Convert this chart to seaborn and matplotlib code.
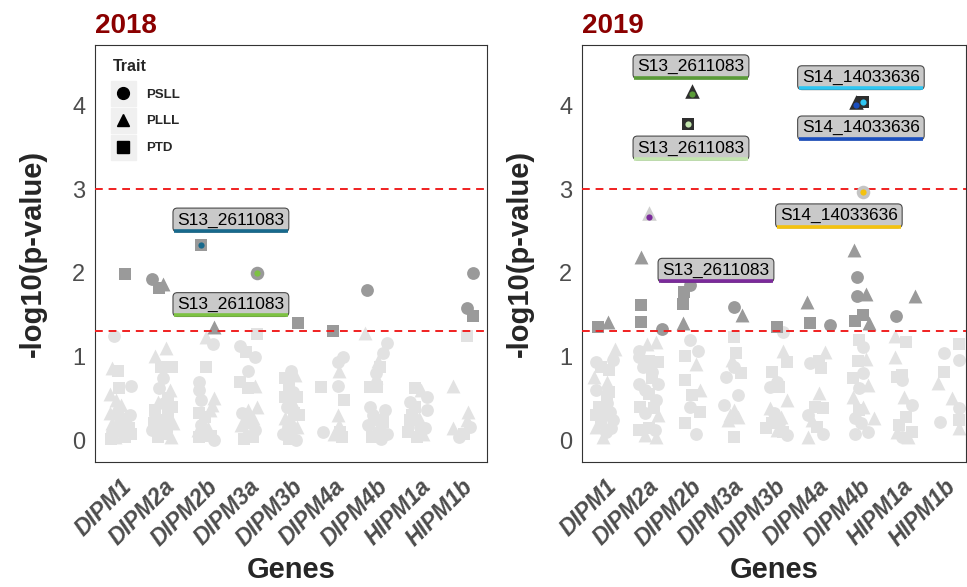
import pandas as pd
import matplotlib.pyplot as plt
import seaborn as sns
from matplotlib.lines import Line2D

#DATOS
genes = ["DIPM1", "DIPM2a", "DIPM2b", "DIPM3a", "DIPM3b", "DIPM4a", "DIPM4b", "HIPM1a", "HIPM1b"]
trait_names = {"C": "PSLL", "T": "PLLL", "S": "PTD"}

# (gen, jitter, -log10(p), rasgo)   C=PSLL  T=PLLL  S=PTD
pts_2018 = [
    ("DIPM1", 0.10, 1.98, "S"), ("DIPM1", -0.16, 1.25, "C"), ("DIPM1", -0.20, 0.86, "T"), ("DIPM1", -0.05, 0.83, "S"),
    ("DIPM1", -0.04, 0.62, "S"), ("DIPM1", 0.24, 0.65, "C"), ("DIPM1", -0.10, 0.48, "T"), ("DIPM1", -0.25, 0.32, "T"),
    ("DIPM1", -0.12, 0.36, "T"), ("DIPM1", 0.22, 0.30, "C"), ("DIPM1", 0.25, 0.08, "S"), ("DIPM1", -0.20, 0.10, "C"),
    ("DIPM1", 0.00, 0.20, "S"), ("DIPM1", -0.14, 0.04, "T"), ("DIPM1", 0.10, 0.04, "S"), ("DIPM1", -0.20, 0.20, "T"),
    ("DIPM1", 0.20, 0.15, "S"), ("DIPM1", 0.02, 0.42, "T"), ("DIPM1", -0.05, 0.12, "C"), ("DIPM1", 0.12, 0.25, "S"),
    ("DIPM1", -0.25, 0.55, "T"), ("DIPM1", -0.05, 0.30, "C"), ("DIPM1", 0.10, 0.12, "T"), ("DIPM1", -0.22, 0.02, "S"),
    ("DIPM2a", -0.27, 1.92, "C"), ("DIPM2a", -0.10, 1.82, "S"), ("DIPM2a", 0.00, 1.86, "T"),
    ("DIPM2a", 0.07, 1.10, "T"), ("DIPM2a", -0.20, 1.00, "T"), ("DIPM2a", 0.20, 0.87, "S"), ("DIPM2a", -0.05, 0.87, "S"),
    ("DIPM2a", 0.00, 0.74, "C"), ("DIPM2a", -0.10, 0.62, "C"), ("DIPM2a", 0.15, 0.60, "T"), ("DIPM2a", 0.20, 0.40, "S"),
    ("DIPM2a", -0.20, 0.36, "S"), ("DIPM2a", -0.12, 0.46, "T"), ("DIPM2a", 0.02, 0.44, "C"), ("DIPM2a", -0.05, 0.24, "S"),
    ("DIPM2a", 0.10, 0.16, "S"), ("DIPM2a", -0.25, 0.12, "C"), ("DIPM2a", -0.12, 0.04, "S"), ("DIPM2a", 0.18, 0.04, "T"),
    ("DIPM2a", 0.05, 0.08, "S"), ("DIPM2a", -0.20, 0.28, "C"), ("DIPM2a", 0.12, 0.30, "S"), ("DIPM2a", -0.22, 0.20, "S"),
    ("DIPM2a", 0.12, 0.50, "S"), ("DIPM2a", -0.02, 0.16, "C"), ("DIPM2a", 0.22, 0.20, "T"),
    ("DIPM2b", 0.20, 1.35, "T"), ("DIPM2b", 0.00, 1.23, "T"), ("DIPM2b", 0.17, 1.15, "C"), ("DIPM2b", 0.00, 0.87, "S"),
    ("DIPM2b", -0.15, 0.69, "C"), ("DIPM2b", -0.17, 0.60, "C"), ("DIPM2b", 0.20, 0.50, "T"), ("DIPM2b", -0.10, 0.48, "C"),
    ("DIPM2b", -0.15, 0.32, "S"), ("DIPM2b", 0.10, 0.36, "T"), ("DIPM2b", -0.10, 0.18, "C"), ("DIPM2b", -0.02, 0.28, "S"),
    ("DIPM2b", -0.15, 0.04, "S"), ("DIPM2b", 0.20, 0.00, "C"), ("DIPM2b", 0.05, 0.14, "T"), ("DIPM2b", 0.12, 0.05, "S"),
    ("DIPM2b", 0.15, 0.42, "T"), ("DIPM2b", -0.18, 0.12, "T"),
    ("DIPM3a", 0.20, 1.27, "S"), ("DIPM3a", -0.20, 1.13, "C"), ("DIPM3a", -0.05, 1.05, "S"), ("DIPM3a", 0.15, 0.99, "C"),
    ("DIPM3a", 0.00, 0.83, "C"), ("DIPM3a", -0.20, 0.69, "S"), ("DIPM3a", 0.15, 0.65, "T"), ("DIPM3a", 0.00, 0.62, "S"),
    ("DIPM3a", -0.15, 0.32, "C"), ("DIPM3a", 0.00, 0.36, "T"), ("DIPM3a", 0.20, 0.40, "T"), ("DIPM3a", 0.00, 0.20, "S"),
    ("DIPM3a", 0.15, 0.12, "C"), ("DIPM3a", -0.05, 0.10, "T"), ("DIPM3a", 0.10, 0.04, "S"), ("DIPM3a", -0.18, 0.18, "T"),
    ("DIPM3a", 0.10, 0.26, "T"), ("DIPM3a", -0.10, 0.02, "S"),
    ("DIPM3b", 0.17, 1.40, "S"), ("DIPM3b", 0.00, 0.83, "C"), ("DIPM3b", 0.10, 0.78, "T"), ("DIPM3b", -0.15, 0.74, "S"),
    ("DIPM3b", -0.05, 0.62, "S"), ("DIPM3b", 0.15, 0.52, "S"), ("DIPM3b", -0.15, 0.52, "S"), ("DIPM3b", -0.10, 0.40, "C"),
    ("DIPM3b", 0.05, 0.44, "T"), ("DIPM3b", -0.15, 0.26, "T"), ("DIPM3b", 0.00, 0.24, "T"), ("DIPM3b", 0.15, 0.16, "T"),
    ("DIPM3b", -0.18, 0.08, "C"), ("DIPM3b", 0.12, 0.00, "C"), ("DIPM3b", -0.02, 0.10, "C"), ("DIPM3b", 0.08, 0.32, "S"),
    ("DIPM3b", -0.05, 0.02, "S"), ("DIPM3b", 0.20, 0.30, "S"), ("DIPM3b", 0.05, 0.58, "C"), ("DIPM3b", -0.08, 0.16, "C"),
    ("DIPM4a", -0.02, 1.30, "S"), ("DIPM4a", 0.23, 0.99, "C"), ("DIPM4a", 0.10, 0.93, "C"), ("DIPM4a", 0.12, 0.83, "T"),
    ("DIPM4a", -0.30, 0.64, "S"), ("DIPM4a", 0.10, 0.65, "C"), ("DIPM4a", 0.25, 0.48, "S"), ("DIPM4a", 0.10, 0.30, "T"),
    ("DIPM4a", -0.25, 0.10, "C"), ("DIPM4a", 0.12, 0.18, "T"), ("DIPM4a", 0.20, 0.04, "S"), ("DIPM4a", 0.02, 0.08, "T"),
    ("DIPM4a", 0.15, 0.10, "S"),
    ("DIPM4b", -0.22, 1.79, "C"), ("DIPM4b", -0.27, 1.28, "T"), ("DIPM4b", 0.25, 1.16, "C"), ("DIPM4b", 0.15, 1.04, "C"),
    ("DIPM4b", 0.05, 0.95, "T"), ("DIPM4b", 0.10, 0.87, "S"), ("DIPM4b", 0.00, 0.80, "C"), ("DIPM4b", -0.15, 0.64, "S"),
    ("DIPM4b", 0.02, 0.64, "S"), ("DIPM4b", 0.00, 0.76, "T"), ("DIPM4b", -0.15, 0.40, "C"), ("DIPM4b", 0.20, 0.36, "C"),
    ("DIPM4b", 0.00, 0.24, "S"), ("DIPM4b", 0.10, 0.12, "C"), ("DIPM4b", -0.10, 0.04, "S"), ("DIPM4b", 0.25, 0.08, "C"),
    ("DIPM4b", -0.20, 0.18, "C"), ("DIPM4b", 0.15, 0.22, "S"), ("DIPM4b", -0.05, 0.10, "T"), ("DIPM4b", -0.08, 0.30, "C"),
    ("DIPM4b", 0.12, 0.02, "C"),
    ("HIPM1a", -0.10, 0.62, "S"), ("HIPM1a", 0.05, 0.60, "T"), ("HIPM1a", 0.20, 0.52, "C"), ("HIPM1a", 0.20, 0.36, "C"),
    ("HIPM1a", -0.10, 0.40, "S"), ("HIPM1a", -0.20, 0.24, "S"), ("HIPM1a", 0.00, 0.26, "T"), ("HIPM1a", 0.15, 0.14, "C"),
    ("HIPM1a", -0.25, 0.10, "S"), ("HIPM1a", -0.05, 0.04, "S"), ("HIPM1a", 0.10, 0.08, "T"), ("HIPM1a", -0.15, 0.30, "S"),
    ("HIPM1a", 0.02, 0.16, "C"), ("HIPM1a", -0.20, 0.46, "C"),
    ("HIPM1b", 0.28, 2.00, "C"), ("HIPM1b", 0.14, 1.58, "C"), ("HIPM1b", 0.28, 1.48, "S"), ("HIPM1b", 0.12, 1.25, "S"),
    ("HIPM1b", -0.20, 0.65, "T"), ("HIPM1b", 0.15, 0.34, "T"), ("HIPM1b", 0.20, 0.16, "C"), ("HIPM1b", -0.20, 0.14, "T"),
    ("HIPM1b", 0.05, 0.08, "S"), ("HIPM1b", 0.12, 0.24, "T"), ("HIPM1b", -0.05, 0.04, "C"),
]

pts_2019 = [
    ("DIPM1", -0.16, 1.35, "S"), ("DIPM1", 0.07, 1.41, "T"), ("DIPM1", 0.24, 1.09, "T"), ("DIPM1", -0.20, 0.94, "C"),
    ("DIPM1", -0.10, 0.88, "S"), ("DIPM1", -0.25, 0.76, "T"), ("DIPM1", 0.10, 0.84, "S"), ("DIPM1", 0.20, 0.96, "C"),
    ("DIPM1", 0.05, 0.70, "T"), ("DIPM1", -0.20, 0.60, "C"), ("DIPM1", 0.10, 0.58, "S"), ("DIPM1", -0.15, 0.40, "S"),
    ("DIPM1", 0.05, 0.44, "C"), ("DIPM1", -0.05, 0.30, "S"), ("DIPM1", 0.20, 0.24, "C"), ("DIPM1", -0.20, 0.16, "T"),
    ("DIPM1", 0.15, 0.14, "C"), ("DIPM1", -0.05, 0.04, "T"), ("DIPM1", 0.02, 0.10, "C"), ("DIPM1", -0.22, 0.30, "S"),
    ("DIPM1", 0.12, 0.34, "C"), ("DIPM1", -0.10, 0.20, "S"), ("DIPM1", 0.05, 0.52, "S"),
    ("DIPM2a", -0.15, 2.19, "T"), ("DIPM2a", -0.15, 1.62, "S"), ("DIPM2a", -0.15, 1.41, "S"), ("DIPM2a", 0.34, 1.33, "C"),
    ("DIPM2a", -0.20, 1.07, "C"), ("DIPM2a", 0.00, 1.15, "T"), ("DIPM2a", 0.20, 1.17, "T"), ("DIPM2a", -0.20, 0.99, "C"),
    ("DIPM2a", 0.05, 0.95, "S"), ("DIPM2a", 0.25, 0.93, "S"), ("DIPM2a", -0.10, 0.87, "C"), ("DIPM2a", -0.20, 0.67, "C"),
    ("DIPM2a", 0.10, 0.74, "S"), ("DIPM2a", 0.25, 0.67, "C"), ("DIPM2a", 0.05, 0.55, "S"), ("DIPM2a", 0.20, 0.48, "C"),
    ("DIPM2a", -0.05, 0.32, "C"), ("DIPM2a", 0.25, 0.30, "T"), ("DIPM2a", -0.20, 0.12, "S"), ("DIPM2a", 0.05, 0.14, "S"),
    ("DIPM2a", -0.05, 0.06, "T"), ("DIPM2a", 0.20, 0.04, "T"), ("DIPM2a", 0.18, 0.12, "C"), ("DIPM2a", -0.18, 0.40, "S"),
    ("DIPM2a", 0.10, 0.82, "C"), ("DIPM2a", -0.05, 0.60, "C"), ("DIPM2a", 0.15, 0.38, "S"),
    ("DIPM2b", -0.16, 1.63, "S"), ("DIPM2b", -0.14, 1.77, "S"), ("DIPM2b", 0.00, 1.85, "C"), ("DIPM2b", -0.16, 1.40, "T"),
    ("DIPM2b", 0.00, 1.20, "C"), ("DIPM2b", 0.20, 1.07, "C"), ("DIPM2b", -0.10, 1.00, "S"), ("DIPM2b", 0.15, 0.91, "T"),
    ("DIPM2b", -0.10, 0.72, "S"), ("DIPM2b", 0.25, 0.60, "T"), ("DIPM2b", 0.05, 0.54, "S"), ("DIPM2b", 0.00, 0.40, "C"),
    ("DIPM2b", 0.25, 0.34, "S"), ("DIPM2b", 0.15, 0.08, "C"), ("DIPM2b", -0.12, 0.20, "S"),
    ("DIPM3a", 0.04, 1.59, "C"), ("DIPM3a", 0.23, 1.50, "T"), ("DIPM3a", 0.05, 1.23, "S"), ("DIPM3a", 0.10, 1.04, "S"),
    ("DIPM3a", 0.00, 0.96, "T"), ("DIPM3a", 0.05, 0.88, "C"), ("DIPM3a", 0.20, 0.80, "S"), ("DIPM3a", -0.15, 0.76, "C"),
    ("DIPM3a", 0.15, 0.54, "C"), ("DIPM3a", -0.20, 0.42, "C"), ("DIPM3a", 0.05, 0.36, "T"), ("DIPM3a", 0.15, 0.28, "T"),
    ("DIPM3a", -0.10, 0.24, "T"), ("DIPM3a", 0.05, 0.04, "S"), ("DIPM3a", -0.05, 0.30, "T"),
    ("DIPM3b", 0.05, 1.35, "S"), ("DIPM3b", 0.20, 1.29, "C"), ("DIPM3b", 0.20, 1.07, "T"), ("DIPM3b", 0.30, 0.93, "S"),
    ("DIPM3b", -0.05, 0.82, "S"), ("DIPM3b", -0.10, 0.64, "C"), ("DIPM3b", 0.10, 0.64, "S"), ("DIPM3b", 0.30, 0.48, "T"),
    ("DIPM3b", -0.10, 0.38, "T"), ("DIPM3b", 0.00, 0.32, "C"), ("DIPM3b", 0.15, 0.28, "T"), ("DIPM3b", -0.20, 0.14, "S"),
    ("DIPM3b", 0.10, 0.20, "C"), ("DIPM3b", 0.20, 0.10, "S"), ("DIPM3b", 0.30, 0.06, "C"), ("DIPM3b", 0.05, 0.12, "T"),
    ("DIPM3b", 0.05, 0.70, "C"), ("DIPM3b", -0.05, 0.20, "S"),
    ("DIPM4a", -0.24, 1.65, "T"), ("DIPM4a", -0.17, 1.40, "S"), ("DIPM4a", 0.30, 1.38, "C"), ("DIPM4a", 0.20, 1.05, "T"),
    ("DIPM4a", -0.15, 0.92, "C"), ("DIPM4a", 0.05, 0.95, "S"), ("DIPM4a", 0.05, 0.56, "T"), ("DIPM4a", -0.05, 0.40, "S"),
    ("DIPM4a", -0.20, 0.30, "C"), ("DIPM4a", -0.12, 0.24, "T"), ("DIPM4a", 0.15, 0.38, "S"), ("DIPM4a", 0.15, 0.08, "C"),
    ("DIPM4a", -0.20, 0.04, "T"), ("DIPM4a", 0.00, 0.16, "S"), ("DIPM4a", 0.10, 0.86, "S"),
    ("DIPM4b", -0.13, 2.27, "T"), ("DIPM4b", -0.06, 1.95, "C"), ("DIPM4b", -0.06, 1.72, "C"), ("DIPM4b", 0.15, 1.75, "T"),
    ("DIPM4b", -0.10, 1.42, "S"), ("DIPM4b", 0.10, 1.49, "S"), ("DIPM4b", 0.23, 1.40, "T"),
    ("DIPM4b", 0.00, 1.20, "S"), ("DIPM4b", 0.10, 1.11, "C"), ("DIPM4b", -0.02, 0.95, "S"), ("DIPM4b", 0.15, 0.97, "T"),
    ("DIPM4b", 0.10, 0.80, "C"), ("DIPM4b", -0.15, 0.74, "S"), ("DIPM4b", 0.20, 0.66, "T"), ("DIPM4b", 0.00, 0.62, "C"),
    ("DIPM4b", -0.15, 0.52, "T"), ("DIPM4b", 0.00, 0.36, "S"), ("DIPM4b", -0.10, 0.26, "C"), ("DIPM4b", 0.35, 0.26, "T"),
    ("DIPM4b", 0.20, 0.10, "C"), ("DIPM4b", -0.10, 0.08, "C"), ("DIPM4b", 0.10, 0.40, "T"), ("DIPM4b", 0.05, 0.20, "C"),
    ("HIPM1a", -0.14, 1.48, "C"), ("HIPM1a", 0.31, 1.72, "T"), ("HIPM1a", -0.15, 1.25, "T"), ("HIPM1a", 0.10, 1.17, "S"),
    ("HIPM1a", -0.15, 0.99, "T"), ("HIPM1a", -0.10, 0.76, "S"), ("HIPM1a", 0.00, 0.72, "C"), ("HIPM1a", 0.05, 0.52, "T"),
    ("HIPM1a", 0.25, 0.42, "C"), ("HIPM1a", 0.10, 0.28, "S"), ("HIPM1a", -0.10, 0.10, "T"), ("HIPM1a", 0.25, 0.10, "S"),
    ("HIPM1a", 0.15, 0.04, "T"), ("HIPM1a", 0.00, 0.04, "C"), ("HIPM1a", -0.05, 0.18, "S"), ("HIPM1a", 0.02, 0.78, "S"),
    ("HIPM1b", 0.35, 1.15, "S"), ("HIPM1b", 0.00, 1.04, "C"), ("HIPM1b", 0.35, 0.96, "C"), ("HIPM1b", 0.00, 0.82, "S"),
    ("HIPM1b", -0.15, 0.68, "T"), ("HIPM1b", 0.20, 0.50, "T"), ("HIPM1b", 0.35, 0.38, "C"), ("HIPM1b", -0.10, 0.22, "C"),
    ("HIPM1b", 0.35, 0.24, "S"), ("HIPM1b", 0.35, 0.14, "T"),
]

# SNPs destacados: (gen, jitter, -log10(p), rasgo, etiqueta)
hl_2018 = [("DIPM2b", -0.11, 2.33, "S", "S13_2611083"), ("DIPM3a", 0.21, 2.00, "C", "S13_2611083")]
hl_2019 = [("DIPM2b", 0.05, 4.17, "T", "S13_2611083"), ("DIPM2b", -0.04, 3.78, "S", "S13_2611083"),
           ("DIPM2a", 0.04, 2.71, "T", "S13_2611083"), ("DIPM4b", -0.08, 4.04, "T", "S14_14033636"),
           ("DIPM4b", 0.10, 4.04, "S", "S14_14033636"), ("DIPM4b", 0.08, 2.97, "C", "S14_14033636")]

# colores (punto interno / subrayado) y relleno externo de los destacados
hl_colors_2018 = ["#17698C", "#7DC242"]
hl_outer_2018 = ["#999999", "#999999"]
hl_colors_2019 = ["#5A9B38", "#C3E6AE", "#7B2A9B", "#1B4FBF", "#2EC6F2", "#F4C20D"]
hl_outer_2019 = ["#2E2E2E", "#2E2E2E", "#CFCFCF", "#2E2E2E", "#2E2E2E", "#C4C4C4"]

# posicion de las etiquetas (x en genes, y en -log10 p)
lab_pos_2018 = [(2.59, 2.63), (2.59, 1.62)]
lab_pos_2019 = [(2.03, 4.46), (2.03, 3.49), (2.62, 2.03), (6.04, 3.73), (6.04, 4.33), (5.52, 2.68)]

thresholds = [3.0, 1.3]

#ESTILO
sns.set_style("white")
plt.rcParams["font.family"] = ["Liberation Sans", "DejaVu Sans"]
markers = {"PSLL": "o", "PLLL": "^", "PTD": "s"}
mk_size = {"PSLL": 85, "PLLL": 100, "PTD": 75}


def to_df(pts):
    df = pd.DataFrame(pts, columns=["gene", "jit", "logp", "trait"])
    df["trait"] = df["trait"].map(trait_names)
    df["x"] = df["gene"].map({g: i for i, g in enumerate(genes)}) + df["jit"]
    return df


def draw_panel(ax, pts, hl, hl_colors, hl_outer, lab_pos, title, xlim):
    df = to_df(pts)
    light = df[df["logp"] < 1.3]
    dark = df[df["logp"] >= 1.3]
    for sub, col in [(light, "#E2E2E2"), (dark, "#9A9A9A")]:
        for tr in ["PSLL", "PLLL", "PTD"]:
            s = sub[sub["trait"] == tr]
            sns.scatterplot(data=s, x="x", y="logp", marker=markers[tr], s=mk_size[tr],
                            color=col, linewidth=0, ax=ax, legend=False, zorder=2)

    hdf = to_df([h[:4] for h in hl])
    for i, row in hdf.iterrows():
        ax.scatter(row["x"], row["logp"], marker=markers[row["trait"]], s=mk_size[row["trait"]] + 10,
                   color=hl_outer[i], linewidth=0, zorder=4)
        ax.scatter(row["x"], row["logp"] - (0.04 if row["trait"] == "PLLL" else 0), marker="o", s=20,
                   color=hl_colors[i], linewidth=0, zorder=5)

    for y in thresholds:
        ax.axhline(y, color="#F02020", linestyle=(0, (4, 3)), linewidth=1.4, zorder=3)

    texts = []
    for (lx, ly), h in zip(lab_pos, hl):
        t = ax.text(lx, ly, h[4], ha="center", va="center", fontsize=12.5, color="black", zorder=6,
                    bbox=dict(boxstyle="round,pad=0.25,rounding_size=0.25", fc="#C9C9C9",
                              ec="#4A4A4A", lw=0.8))
        texts.append(t)

    ax.set_xlim(*xlim)
    ax.set_ylim(-0.26, 4.72)
    ax.set_xticks(range(len(genes)))
    ax.set_xticklabels(genes, rotation=45, ha="right", va="top", rotation_mode="anchor",
                       fontsize=16.5, fontweight="bold", fontstyle="italic", color="#4D4D4D")
    ax.set_yticks([0, 1, 2, 3, 4])
    ax.set_yticklabels(["0", "1", "2", "3", "4"], fontsize=17, color="#4D4D4D")
    ax.tick_params(axis="both", length=4, width=0.8, color="#333333", direction="out", pad=3)
    ax.tick_params(axis="x", pad=5)
    for sp in ax.spines.values():
        sp.set_visible(True)
        sp.set_color("#333333")
        sp.set_linewidth(0.8)
    ax.set_xlabel("Genes", fontsize=21, fontweight="bold", labelpad=4)
    ax.set_ylabel("-log10(p-value)", fontsize=21, fontweight="bold", labelpad=18)
    ax.set_title(title, loc="left", fontsize=20, fontweight="bold", color="#8B0000", pad=9)
    return texts


fig = plt.figure(figsize=(9.67, 5.87), dpi=100)
ax1 = fig.add_axes([0.0982, 0.213, 0.4054, 0.7103])
ax2 = fig.add_axes([0.6019, 0.213, 0.3971, 0.7103])

t1 = draw_panel(ax1, pts_2018, hl_2018, hl_colors_2018, hl_outer_2018, lab_pos_2018, "2018", (-0.6, 8.6))
t2 = draw_panel(ax2, pts_2019, hl_2019, hl_colors_2019, hl_outer_2019, lab_pos_2019, "2019", (-0.54, 8.52))

# leyenda (solo en 2018)
handles = []
for tr in ["PSLL", "PLLL", "PTD"]:
    bg = Line2D([], [], marker="s", markersize=18, color="#F0F0F0", linestyle="")
    fg = Line2D([], [], marker=markers[tr], markersize=8.5, color="black", linestyle="")
    handles.append((bg, fg))
leg = ax1.legend(handles, ["PSLL", "PLLL", "PTD"], title="Trait", loc="upper left", frameon=False,
                 prop={"weight": "bold", "size": 9.5}, title_fontproperties={"weight": "bold", "size": 11.5},
                 handlelength=1.6, handletextpad=0.9, labelspacing=1.1, borderaxespad=0.5,
                 bbox_to_anchor=(0.015, 0.995))
leg._legend_box.align = "left"

# subrayado de color bajo cada etiqueta
fig.canvas.draw()
for ax, texts, cols in [(ax1, t1, hl_colors_2018), (ax2, t2, hl_colors_2019)]:
    inv = ax.transAxes.inverted()
    for t, c in zip(texts, cols):
        bb = t.get_bbox_patch().get_window_extent()
        (x0, y0), (x1, _) = inv.transform([(bb.x0 + 1, bb.y0 + 1.2), (bb.x1 - 1, bb.y0)])
        ax.plot([x0, x1], [y0, y0], color=c, linewidth=2.6, transform=ax.transAxes,
                clip_on=False, zorder=7, solid_capstyle="butt")

plt.savefig("out.png", dpi=100)
